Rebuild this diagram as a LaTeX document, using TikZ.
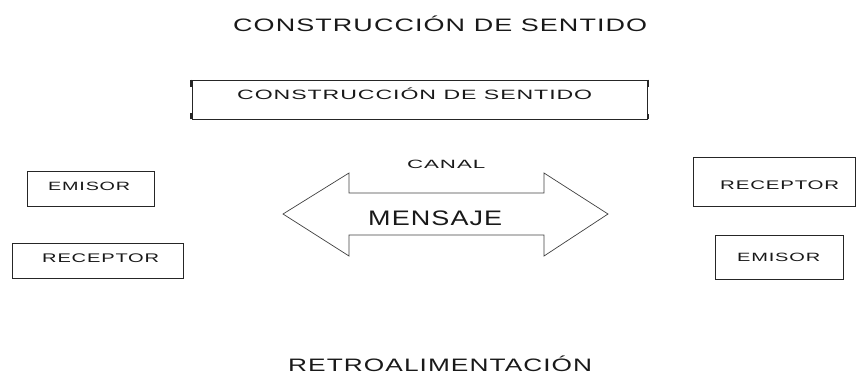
\documentclass[tikz,border=0pt]{standalone}
\usepackage{fontspec}
\setmainfont{Liberation Sans}
\newcommand\wt[3]{{\fontsize{#1}{#1}\selectfont\resizebox{#2}{\height}{\addfontfeature{LetterSpace=4}#3}}}
\begin{document}
\begin{tikzpicture}[x=1pt,y=-1pt,
  txt/.style={inner sep=0pt, anchor=base west, text=black!90},
  box/.style={draw=black!85, line width=0.8pt, inner sep=0pt},
  brk/.style={draw=black!85, line width=1.8pt}]
\useasboundingbox (0,0) rectangle (856,378);
% title
\node[txt] (title) at (233,31.5) {\wt{18}{414pt}{CONSTRUCCIÓN DE SENTIDO}};
% construction box
\node[box, minimum width=455pt, minimum height=39pt] (cbox) at (419.5,99.5) {};
\draw[brk] ([xshift=-0.6pt]cbox.north west) -- ++(0,7);
\draw[brk] ([xshift=-0.6pt]cbox.south west) -- ++(0,-6);
\draw[brk] ([xshift=0.6pt]cbox.north east) -- ++(0,7);
\draw[brk] ([xshift=0.6pt]cbox.south east) -- ++(0,-5);
\node[txt] (ctext) at (237,99.5) {\wt{13.5}{355pt}{CONSTRUCCIÓN DE SENTIDO}};
% left boxes
\node[box, minimum width=127pt, minimum height=35pt] (emisorL) at (90.5,188.5) {};
\node[txt] (emisorLt) at (48,190) {\wt{12}{82pt}{EMISOR}};
\node[box, minimum width=171pt, minimum height=35pt] (receptorL) at (97.5,260.5) {};
\node[txt] (receptorLt) at (42,262.5) {\wt{12.5}{117pt}{RECEPTOR}};
% right boxes
\node[box, minimum width=162pt, minimum height=49pt] (receptorR) at (774.5,181.5) {};
\node[txt] (receptorRt) at (720,189.5) {\wt{12.5}{119pt}{RECEPTOR}};
\node[box, minimum width=128pt, minimum height=44pt] (emisorR) at (779,257) {};
\node[txt] (emisorRt) at (737,261.5) {\wt{12}{83pt}{EMISOR}};
% double arrow
\draw[draw=black!75, line width=0.7pt] (283,214) -- (349,173) -- (349,193) -- (544,193) -- (544,173)
  -- (608,214) -- (544,256) -- (544,235) -- (349,235) -- (349,256) -- cycle;
\node[txt] (canal) at (407,168) {\wt{12}{78pt}{CANAL}};
\node[txt] (mensaje) at (368,225) {\wt{21}{134pt}{MENSAJE}};
% bottom
\node[txt] (retro) at (288,371) {\wt{18}{304pt}{RETROALIMENTACIÓN}};
\end{tikzpicture}
\end{document}
